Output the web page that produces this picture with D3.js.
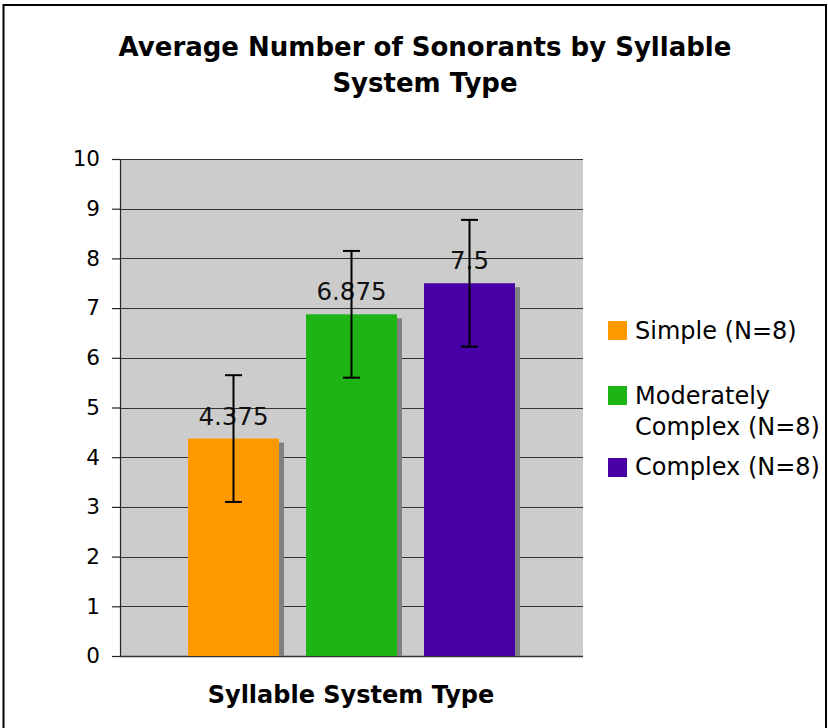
<!DOCTYPE html>
<html><head><meta charset="utf-8">
<script src="https://cdn.jsdelivr.net/npm/d3@7"></script>
<style>html,body{margin:0;padding:0;background:#fff;}svg{display:block;}</style>
</head><body>
<svg id="chart" width="828" height="728"></svg>
<script>
const titleLines = ["Average Number of Sonorants by Syllable", "System Type"];
const xAxisTitle = "Syllable System Type";
const categories = ["Simple (N=8)", "Moderately Complex (N=8)", "Complex (N=8)"];
const legendLines = [["Simple (N=8)"], ["Moderately", "Complex (N=8)"], ["Complex (N=8)"]];
const means = [4.375, 6.875, 7.5];
const meanLabels = ["4.375", "6.875", "7.5"];
const errors = [1.275, 1.275, 1.275];
const colors = ["#FF9900", "#1FB416", "#4800A6"];
const yTicks = [0, 1, 2, 3, 4, 5, 6, 7, 8, 9, 10];

const svg = d3.select("#chart");
const font = "'DejaVu Sans', Verdana, sans-serif";

// outer frame
svg.append("rect").attr("x", 3.5).attr("y", 5).attr("width", 822.5).attr("height", 740)
  .attr("fill", "none").attr("stroke", "#000").attr("stroke-width", 2);

const plot = {left: 120, right: 583, top: 159, bottom: 656};
const y = d3.scaleLinear().domain([0, 10]).range([plot.bottom, plot.top]);
const x = d3.scaleBand().domain(categories).range([188, 515]).paddingInner(0.229).paddingOuter(0);

// plot background
svg.append("rect").attr("x", plot.left).attr("y", plot.top)
  .attr("width", plot.right - plot.left).attr("height", plot.bottom - plot.top).attr("fill", "#CCCCCC");

// gridlines
svg.append("g").selectAll("line").data(yTicks.filter(d => d > 0)).join("line")
  .attr("x1", plot.left).attr("x2", plot.right)
  .attr("y1", d => Math.round(y(d)) + 0.5).attr("y2", d => Math.round(y(d)) + 0.5)
  .attr("stroke", "#333").attr("stroke-width", 1.2);

// y axis
const yAxis = d3.axisLeft(y).tickValues(yTicks).tickSize(8).tickPadding(12).tickFormat(d3.format("d"));
const ga = svg.append("g").attr("transform", `translate(${plot.left},0)`).call(yAxis);
ga.select(".domain").remove();
ga.selectAll(".tick line").attr("stroke", "#222").attr("stroke-width", 1.2);
ga.selectAll(".tick text").attr("font-family", font).attr("font-size", 21.5).attr("fill", "#000");
svg.append("line").attr("x1", plot.left + 0.5).attr("x2", plot.left + 0.5)
  .attr("y1", plot.top).attr("y2", plot.bottom).attr("stroke", "#222").attr("stroke-width", 1.2);
svg.append("line").attr("x1", plot.left).attr("x2", plot.right)
  .attr("y1", plot.bottom + 0.5).attr("y2", plot.bottom + 0.5).attr("stroke", "#333").attr("stroke-width", 1.5);

// bar shadows
svg.append("g").selectAll("rect").data(categories).join("rect")
  .attr("x", d => x(d) + 5).attr("y", (d, i) => y(means[i]) + 4)
  .attr("width", x.bandwidth()).attr("height", (d, i) => plot.bottom - y(means[i]) - 4)
  .attr("fill", "#808080");
// bars
svg.append("g").selectAll("rect").data(categories).join("rect")
  .attr("x", d => x(d)).attr("y", (d, i) => y(means[i]))
  .attr("width", x.bandwidth()).attr("height", (d, i) => plot.bottom - y(means[i]))
  .attr("fill", (d, i) => colors[i]);

// value labels
svg.append("g").selectAll("text").data(categories).join("text")
  .attr("x", d => x(d) + x.bandwidth() / 2).attr("y", (d, i) => y(means[i]) - 14)
  .attr("text-anchor", "middle").attr("font-family", font).attr("font-size", 24.5).attr("fill", "#111")
  .text((d, i) => meanLabels[i]);

// error bars
const eb = svg.append("g").attr("stroke", "#000").attr("stroke-width", 2);
categories.forEach((c, i) => {
  const cx = x(c) + x.bandwidth() / 2;
  const y1 = y(means[i] + errors[i]), y2 = y(means[i] - errors[i]);
  eb.append("line").attr("x1", cx).attr("x2", cx).attr("y1", y1).attr("y2", y2);
  eb.append("line").attr("x1", cx - 8.5).attr("x2", cx + 8.5).attr("y1", y1).attr("y2", y1);
  eb.append("line").attr("x1", cx - 8.5).attr("x2", cx + 8.5).attr("y1", y2).attr("y2", y2);
});

// title
svg.append("text").attr("x", 425).attr("y", 56).attr("text-anchor", "middle")
  .attr("font-family", font).attr("font-weight", "bold").attr("font-size", 26)
  .selectAll("tspan").data(titleLines).join("tspan")
  .attr("x", 425).attr("dy", (d, i) => i === 0 ? 0 : 36).text(d => d);

// x axis title
svg.append("text").attr("x", 351).attr("y", 703).attr("text-anchor", "middle")
  .attr("font-family", font).attr("font-weight", "bold").attr("font-size", 24).text(xAxisTitle);

// legend
const legendSquareY = [321, 386, 458];
const legendBaseY = [339, 404, 475];
const lg = svg.append("g");
categories.forEach((c, i) => {
  lg.append("rect").attr("x", 608).attr("y", legendSquareY[i]).attr("width", 19).attr("height", 19).attr("fill", colors[i]);
  lg.append("text").attr("font-family", font).attr("font-size", 24).attr("fill", "#000")
    .selectAll("tspan").data(legendLines[i]).join("tspan")
    .attr("x", 635).attr("y", (d, j) => legendBaseY[i] + j * 31).text(d => d);
});
</script>
</body></html>
